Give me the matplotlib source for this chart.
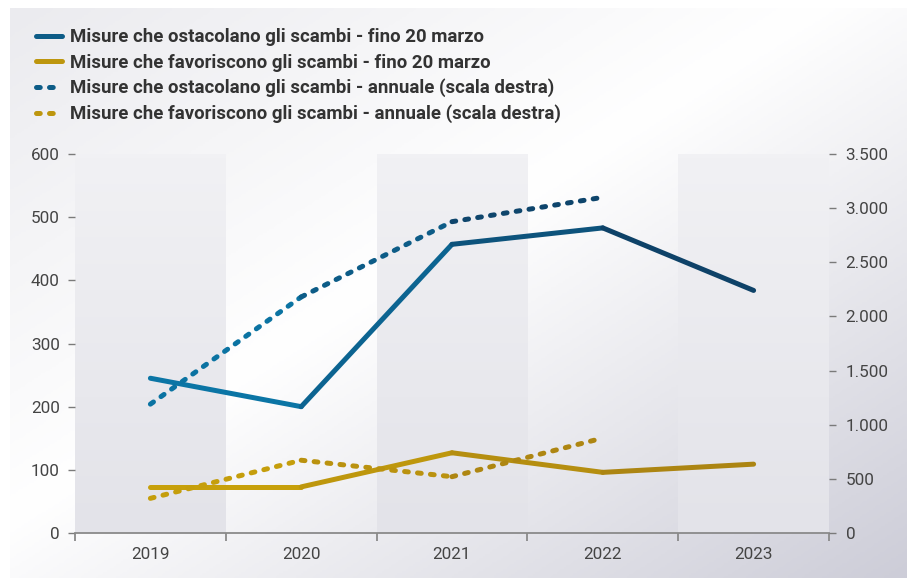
import numpy as np
import matplotlib
matplotlib.use('Agg')
import matplotlib.pyplot as plt
from matplotlib.collections import LineCollection
from matplotlib.colors import to_rgb, LinearSegmentedColormap
from matplotlib.lines import Line2D
import matplotlib.ticker as mticker

# ---- data ----
years = ['2019', '2020', '2021', '2022', '2023']
ost_fino = [245, 200, 457, 483, 384]          # left axis
fav_fino = [73, 73, 127, 96, 109]             # left axis
years_ann = ['2019', '2020', '2021', '2022']
ost_ann = [1190, 2180, 2875, 3100]            # right axis
fav_ann = [320, 672, 520, 877]                # right axis
left_ticks = [0, 100, 200, 300, 400, 500, 600]
right_ticks = [0, 500, 1000, 1500, 2000, 2500, 3000, 3500]
legend_labels = [
    'Misure che ostacolano gli scambi - fino 20 marzo',
    'Misure che favoriscono gli scambi - fino 20 marzo',
    'Misure che ostacolano gli scambi - annuale (scala destra)',
    'Misure che favoriscono gli scambi - annuale (scala destra)',
]

FONT = 'Roboto'
plt.rcParams['font.family'] = [FONT, 'DejaVu Sans']

BLUE0, BLUE1 = '#0a7eaf', '#0f395e'
GOLD0, GOLD1 = '#cba40a', '#a88013'
LW = 3.6
DASH = (0, (0.75, 1.85))


def blend(c0, c1, t):
    a, b = np.array(to_rgb(c0)), np.array(to_rgb(c1))
    return tuple(a + (b - a) * t)


def grad_line(ax, xs, ys, c0, c1, dashed=False, z=3):
    pts = np.column_stack([xs, ys])
    segs = [pts[i:i + 2] for i in range(len(pts) - 1)]
    n = len(segs)
    cols = [blend(c0, c1, (i + 0.5) / n) for i in range(n)]
    lc = LineCollection(segs, colors=cols, linewidths=LW,
                        linestyles=DASH if dashed else 'solid',
                        capstyle='round', joinstyle='round', zorder=z)
    ax.add_collection(lc)


fig = plt.figure(figsize=(9.12, 5.78), dpi=100)

# background gradient panel
bg = fig.add_axes([10 / 912, 0, 897 / 912, 570 / 578], zorder=-10)
U, V = np.meshgrid(np.linspace(0, 1, 400), np.linspace(0, 1, 260))
T = (U + V) / 2
bg_cmap = LinearSegmentedColormap.from_list(
    'bg', [(0, '#ebebef'), (0.45, '#ffffff'), (1.0, '#cdcdd8')])
bg.imshow(T, cmap=bg_cmap, vmin=0, vmax=1, aspect='auto', extent=(0, 1, 1, 0))
bg.axis('off')

ax = fig.add_axes([75 / 912, 1 - 533 / 578, 754 / 912, 379 / 578])
ax.patch.set_alpha(0)
x = np.arange(len(years))
xa = np.arange(len(years_ann))

# alternating bands
band_cmap = LinearSegmentedColormap.from_list('band', ['#f1f1f4', '#e3e3e9'])
grad = np.linspace(0, 1, 100).reshape(-1, 1)
for i in range(0, len(years), 2):
    ax.imshow(grad, cmap=band_cmap, aspect='auto',
              extent=(i - 0.5, i + 0.5, 0, 600), origin='upper', zorder=0)

ax.set_xlim(-0.5, len(years) - 0.5)
ax.set_ylim(0, 600)

grad_line(ax, x, ost_fino, BLUE0, BLUE1)
grad_line(ax, x, fav_fino, GOLD0, GOLD1)

ax2 = ax.twinx()
ax2.set_ylim(0, 3500)
grad_line(ax2, xa, ost_ann, BLUE0, BLUE1, dashed=True)
grad_line(ax2, xa, fav_ann, GOLD0, GOLD1, dashed=True)

TICKC = '#7a7a7a'
LABC = '#444444'
fs = 12.3

for a in (ax, ax2):
    for s in a.spines.values():
        s.set_visible(False)

ax.spines['bottom'].set_visible(True)
ax.spines['bottom'].set_color('#8a8a8a')
ax.spines['bottom'].set_linewidth(1.3)

ax.set_xticks(x)
ax.set_xticklabels(years)
ax.set_xticks(np.arange(-0.5, len(years), 1.0), minor=True)
ax.tick_params(axis='x', which='major', length=0, pad=10, labelsize=fs, labelcolor=LABC)
ax.tick_params(axis='x', which='minor', length=6, width=1.3, color='#8a8a8a')

ax.set_yticks(left_ticks)
ax.tick_params(axis='y', which='major', length=5, width=1, color=TICKC, pad=6,
               labelsize=fs, labelcolor=LABC)

ax2.set_yticks(right_ticks)
ax2.yaxis.set_major_formatter(mticker.FuncFormatter(lambda v, p: f'{int(v):,}'.replace(',', '.')))
ax2.tick_params(axis='y', which='major', length=5, width=1, color=TICKC, pad=7,
                labelsize=fs, labelcolor=LABC)

# legend
handles = [
    Line2D([], [], color=blend(BLUE0, BLUE1, 0.5), lw=LW, solid_capstyle='round'),
    Line2D([], [], color=blend(GOLD0, GOLD1, 0.4), lw=LW, solid_capstyle='round'),
    Line2D([], [], color=blend(BLUE0, BLUE1, 0.5), lw=LW, linestyle=DASH, dash_capstyle='round'),
    Line2D([], [], color=blend(GOLD0, GOLD1, 0.4), lw=LW, linestyle=DASH, dash_capstyle='round'),
]
leg = fig.legend(handles, legend_labels, loc='upper left',
                 bbox_to_anchor=(36 / 912, 1 - 28.5 / 578), frameon=False,
                 prop={'family': [FONT, 'DejaVu Sans'], 'weight': 'bold', 'size': 13.4},
                 handlelength=1.4, handletextpad=0.45, labelspacing=0.38,
                 borderpad=0, borderaxespad=0)
for t in leg.get_texts():
    t.set_color('#333333')

fig.savefig('out.png', dpi=100)
